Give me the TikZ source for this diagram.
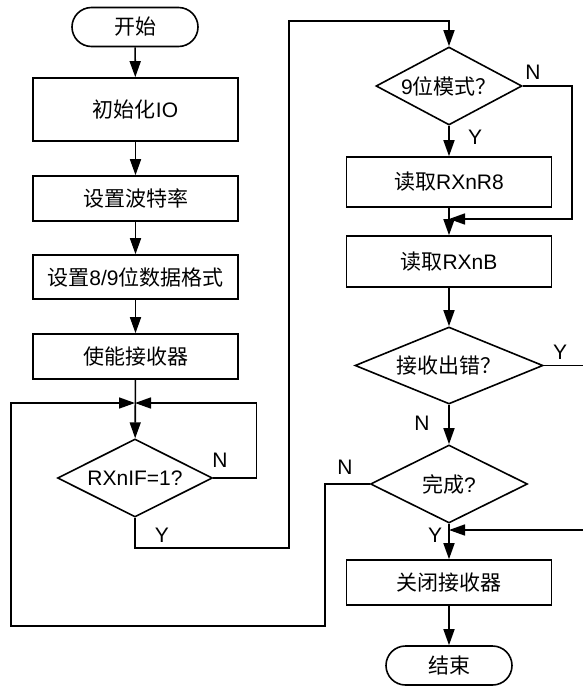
\documentclass[tikz,border=0pt]{standalone}
\usepackage{fontspec}
\setmainfont{Liberation Sans}
\newfontfamily\cjk{Noto Sans CJK SC}
\usetikzlibrary{arrows.meta,shapes.geometric,shapes.misc}
\tikzset{
  >={Triangle[length=16pt,width=11pt]},
  box/.style={draw,line width=1.6pt,minimum width=205pt,inner sep=0pt,font=\fontsize{21}{25}\selectfont},
  term/.style={box,rounded rectangle,minimum width=126pt,minimum height=39pt},
  dec/.style={box,diamond,aspect=2,minimum height=78pt},
  arr/.style={->,line width=1.6pt},
  lab/.style={font=\fontsize{21}{25}\selectfont},
}
\begin{document}
\begin{tikzpicture}[x=1pt,y=-1pt]
\useasboundingbox (0,0) rectangle (582,686);
% left column
\node[term] (start) at (135,27) {\cjk 开始};
\node[box,minimum height=63pt] (init) at (135.5,109.5) {{\cjk 初始化}IO};
\node[box,minimum height=45pt] (baud) at (135.5,198.5) {\cjk 设置波特率};
\node[box,minimum height=44pt] (fmt) at (135.5,277) {{\cjk 设置}8/9{\cjk 位数据格式}};
\node[box,minimum height=45pt] (en) at (135.5,356.5) {\cjk 使能接收器};
\coordinate (j1) at (135,403);
\node[dec,minimum width=155pt] (rxif) at (135,478) {RXnIF=1?};
\coordinate (ytop) at (289,21);
% right column
\node[dec,minimum width=146pt] (mode) at (449,86) {9{\cjk 位模式？}};
\node[box,minimum height=50pt] (rd8) at (449,182) {{\cjk 读取}RXnR8};
\coordinate (j2) at (449,219);
\node[box,minimum height=51pt] (rdb) at (449,261.5) {{\cjk 读取}RXnB};
\node[dec,minimum width=188pt,minimum height=77pt] (err) at (449,365.5) {\cjk 接收出错？};
\node[dec,minimum width=157pt] (done) at (449,484) {{\cjk 完成}?};
\coordinate (j3) at (449,530);
\node[box,minimum height=45pt] (close) at (449,582.5) {\cjk 关闭接收器};
\node[term] (end) at (449,665.5) {\cjk 结束};
% connectors
\draw[arr] (start) -- (init);
\draw[arr] (init) -- (baud);
\draw[arr] (baud) -- (fmt);
\draw[arr] (fmt) -- (en);
\draw[arr] (en) -- (rxif);
\draw[arr] (rxif.east) -- ++(43,0) |- (j1);
\draw[arr] (rxif.south) -- ++(0,30) -| (ytop) -| (mode.north);
\draw[arr] (mode.east) -- ++(49,0) |- (j2);
\draw[arr] (mode) -- (rd8);
\draw[arr] (rd8) -- (rdb);
\draw[arr] (rdb) -- (err);
\draw[arr] (err.east) -- ++(47,0) |- (j3);
\draw[arr] (err) -- (done);
\draw[arr] (done.west) -- ++(-45,0) |- (11,626) |- (j1);
\draw[arr] (done) -- (close);
\draw[arr] (close) -- (end);
% labels
\node[lab] at (220,460) {N};
\node[lab] at (162,535) {Y};
\node[lab] at (533,72) {N};
\node[lab] at (475,137) {Y};
\node[lab] at (560,352) {Y};
\node[lab] at (422,423) {N};
\node[lab] at (345,467) {N};
\node[lab] at (435,535) {Y};
\end{tikzpicture}
\end{document}
